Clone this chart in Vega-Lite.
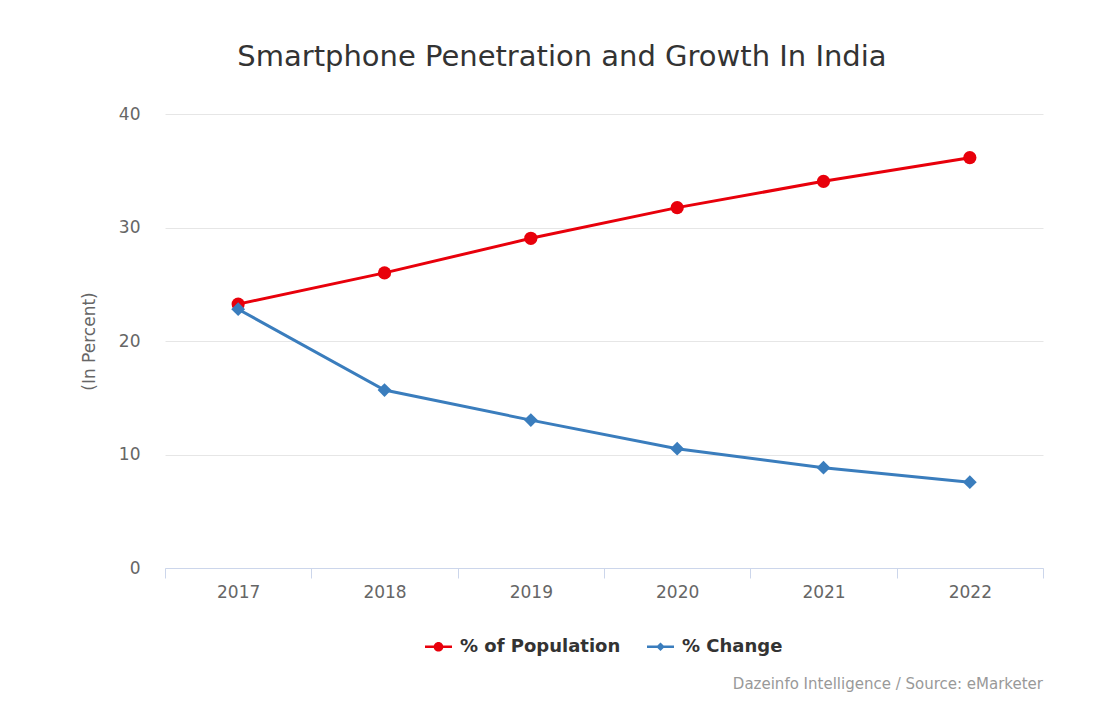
{
  "$schema": "https://vega.github.io/schema/vega-lite/v6.json",
  "background": "white",
  "padding": {"left": 80, "top": 43, "right": 5, "bottom": 5},
  "config": {
    "view": {"stroke": null},
    "font": "DejaVu Sans",
    "legend": {"layout": {"bottom": {"anchor": "middle"}}}
  },
  "title": {
    "text": "Smartphone Penetration and Growth In India",
    "font": "DejaVu Sans",
    "fontSize": 29,
    "fontWeight": "normal",
    "color": "#333333",
    "anchor": "middle",
    "frame": "bounds",
    "offset": 33
  },
  "spacing": 20,
  "resolve": {
    "scale": {"color": "independent", "shape": "independent"},
    "legend": {"color": "independent", "shape": "independent"}
  },
  "vconcat": [
    {
      "width": 878,
      "height": 454,
      "data": {
        "values": [
          {"year": "2017", "series": "% of Population", "value": 23.25},
          {"year": "2018", "series": "% of Population", "value": 26.0},
          {"year": "2019", "series": "% of Population", "value": 29.05},
          {"year": "2020", "series": "% of Population", "value": 31.75},
          {"year": "2021", "series": "% of Population", "value": 34.07},
          {"year": "2022", "series": "% of Population", "value": 36.15},
          {"year": "2017", "series": "% Change", "value": 22.8},
          {"year": "2018", "series": "% Change", "value": 15.68},
          {"year": "2019", "series": "% Change", "value": 13.03},
          {"year": "2020", "series": "% Change", "value": 10.51},
          {"year": "2021", "series": "% Change", "value": 8.84},
          {"year": "2022", "series": "% Change", "value": 7.56}
        ]
      },
      "encoding": {
        "x": {
          "field": "year",
          "type": "ordinal",
          "scale": {"type": "band", "paddingInner": 0, "paddingOuter": 0},
          "axis": {
            "title": null,
            "labelAngle": 0,
            "labelFontSize": 17,
            "labelColor": "#666666",
            "labelPadding": 6,
            "domainColor": "#ccd6eb",
            "domainWidth": 1,
            "tickColor": "#ccd6eb",
            "tickSize": 10,
            "tickBand": "extent",
            "grid": false
          }
        },
        "y": {
          "field": "value",
          "type": "quantitative",
          "scale": {"domain": [0, 40], "nice": false},
          "axis": {
            "title": "(In Percent)",
            "titleFontSize": 17,
            "titleFontWeight": "normal",
            "titleColor": "#666666",
            "titlePadding": 20,
            "values": [0, 10, 20, 30, 40],
            "labelFontSize": 17,
            "labelColor": "#666666",
            "labelPadding": 25,
            "ticks": false,
            "domain": false,
            "grid": true,
            "gridColor": "#e6e6e6",
            "gridWidth": 1
          }
        }
      },
      "layer": [
        {
          "transform": [{"filter": "false"}],
          "mark": {"type": "point", "filled": true, "opacity": 1},
          "encoding": {
            "color": {
              "field": "series",
              "type": "nominal",
              "scale": {"domain": ["% of Population", "% Change"], "range": ["#e8000b", "#3a7dbd"]},
              "legend": {
                "title": null,
                "orient": "bottom",
                "direction": "horizontal",
                "offset": 33,
                "symbolSize": 729,
                "symbolStrokeWidth": 0,
                "labelFontSize": 18,
                "labelFontWeight": "bold",
                "labelColor": "#333333",
                "labelOffset": 8,
                "labelLimit": 400,
                "columnPadding": 26
              }
            },
            "shape": {
              "field": "series",
              "type": "nominal",
              "scale": {
                "domain": ["% of Population", "% Change"],
                "range": [
                  "M-1,-0.1H1V0.1H-1Z M-0.36,0A0.36,0.36,0,1,1,0.36,0A0.36,0.36,0,1,1,-0.36,0Z",
                  "M-1,-0.1H1V0.1H-1Z M0,-0.32L0.32,0L0,0.32L-0.32,0Z"
                ]
              },
              "legend": {
                "title": null,
                "orient": "bottom",
                "direction": "horizontal",
                "offset": 33,
                "symbolSize": 729,
                "symbolStrokeWidth": 0,
                "labelFontSize": 18,
                "labelFontWeight": "bold",
                "labelColor": "#333333",
                "labelOffset": 8,
                "labelLimit": 400,
                "columnPadding": 26
              }
            }
          }
        },
        {
          "transform": [{"filter": "datum.series == '% of Population'"}],
          "mark": {"type": "line", "strokeWidth": 3, "color": "#e8000b"},
          "encoding": {}
        },
        {
          "transform": [{"filter": "datum.series == '% Change'"}],
          "mark": {"type": "line", "strokeWidth": 3, "color": "#3a7dbd"},
          "encoding": {}
        },
        {
          "transform": [{"filter": "datum.series == '% of Population'"}],
          "mark": {"type": "point", "shape": "circle", "filled": true, "size": 175, "opacity": 1, "color": "#e8000b"},
          "encoding": {}
        },
        {
          "transform": [{"filter": "datum.series == '% Change'"}],
          "mark": {"type": "point", "shape": "diamond", "filled": true, "size": 190, "opacity": 1, "color": "#3a7dbd"},
          "encoding": {}
        }
      ]
    },
    {
      "width": 878,
      "height": 1,
      "title": {
        "text": "Dazeinfo Intelligence / Source: eMarketer",
        "anchor": "end",
        "orient": "top",
        "font": "DejaVu Sans",
        "fontSize": 15,
        "fontWeight": "normal",
        "color": "#999999",
        "offset": 0
      },
      "data": {"values": [{}]},
      "mark": {"type": "text"},
      "encoding": {"text": {"value": ""}}
    }
  ]
}
